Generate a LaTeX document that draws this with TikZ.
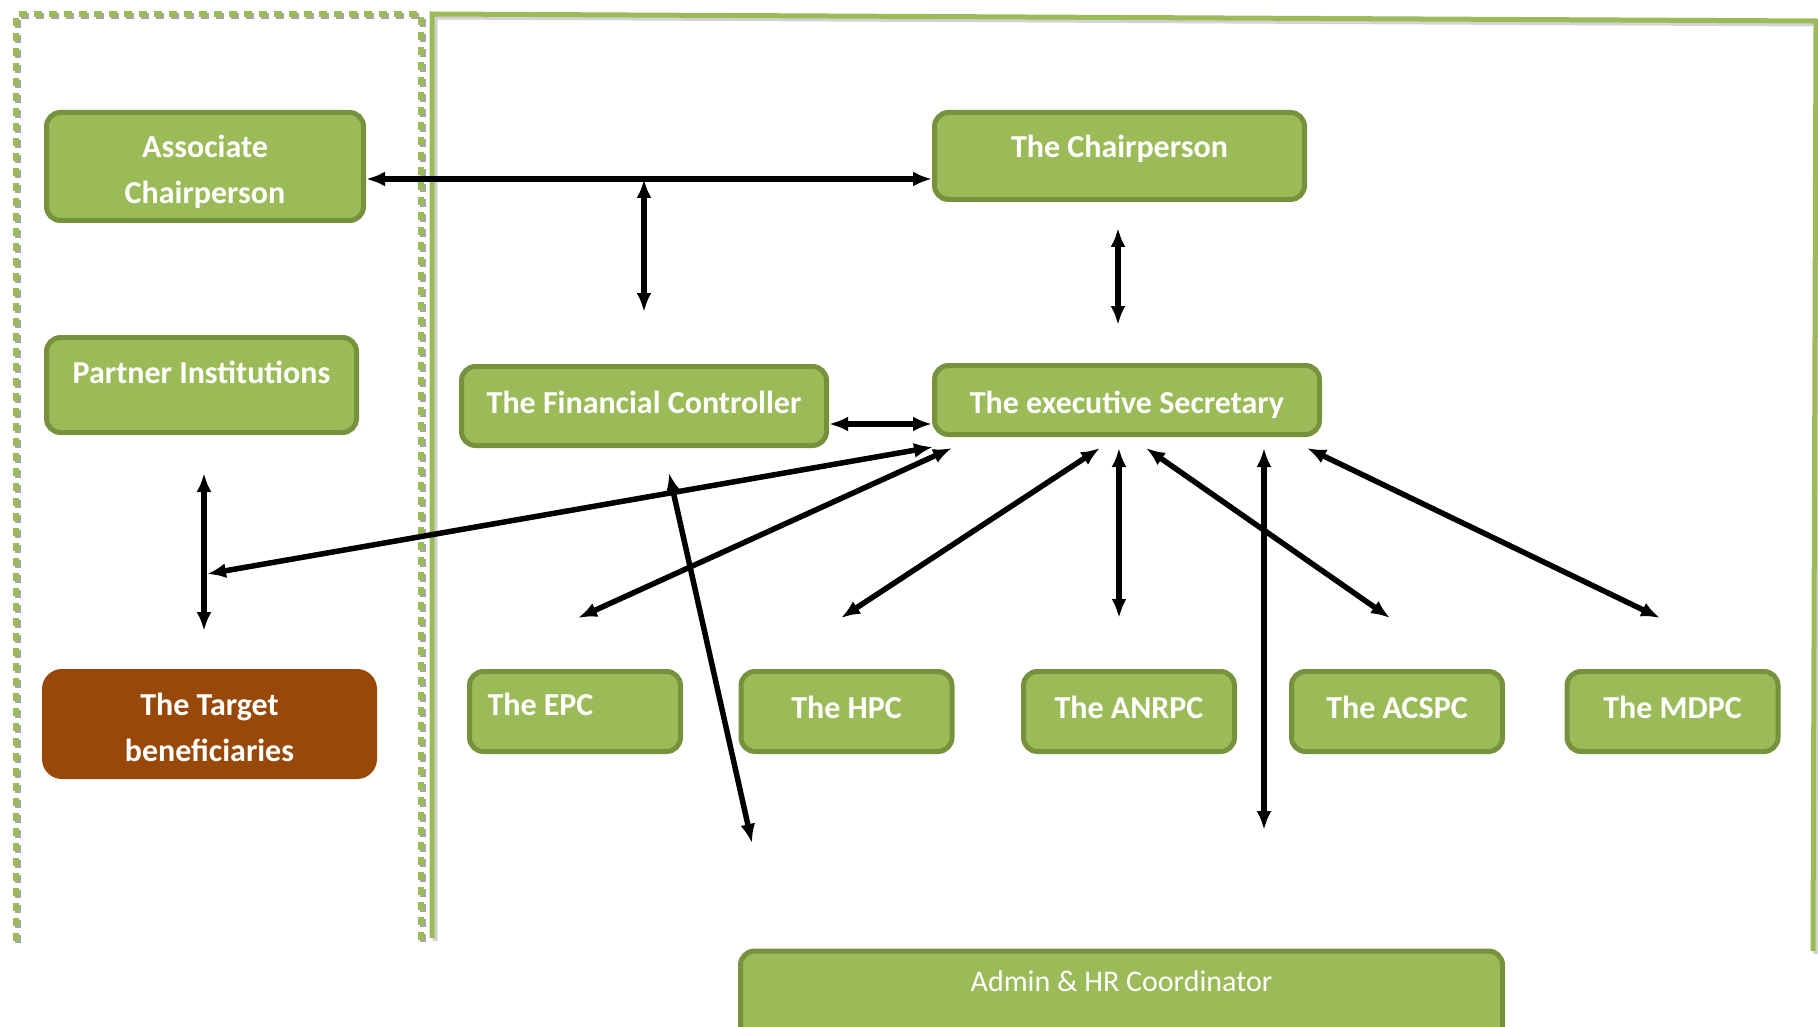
\documentclass[tikz,border=0pt]{standalone}
\usepackage{fontspec}
\setmainfont{Carlito}
\usetikzlibrary{arrows.meta}
\definecolor{boxgreen}{RGB}{155,187,89}
\definecolor{boxline}{RGB}{118,146,60}
\definecolor{targetbrown}{RGB}{152,72,8}
\definecolor{shadowgray}{RGB}{165,165,165}
\tikzset{
box/.style=
    {rectangle,
    rounded corners=14pt,
    fill=boxgreen,
    draw=boxline,
    line width=5pt,
    text=white,
    align=center,
    inner sep=0pt,
    text height=22pt,
    text depth=7pt,
    font=\bfseries\fontsize{32}{46}\selectfont
    },
rowbox/.style=
    {box,
    minimum width=211pt,
    minimum height=80pt,
    text depth=8pt
    },
targetbox/.style=
    {box,
    draw=none,
    fill=targetbrown,
    rounded corners=20pt
    },
link/.style=
    {<->,
    >={Latex[length=19pt,width=15pt]},
    line width=5.5pt,
    black
    }}

\begin{document}
\begin{tikzpicture}[x=1pt,y=-1pt]
\useasboundingbox (0,0) rectangle (1818,1027);

\draw[shadowgray,line width=6pt,dash pattern=on 8pt off 7pt] (18,943) -- (18,16) -- (423,16) -- (423,943);
\draw[boxgreen,line width=6pt,dash pattern=on 8pt off 7pt] (16,941) -- (16,14) -- (421,14) -- (421,941);
\draw[shadowgray!50,line width=5pt] (435,941) -- (435,17) -- (1819,24) -- (1816,954);
\draw[boxgreen,line width=5pt] (432,938) -- (432,14) -- (1816,21) -- (1813,951);

\node[box,minimum width=317pt,minimum height=108pt,text height=82pt,text depth=7pt] (assoc) at (205,166.5) {Associate\\Chairperson};
\node[box,minimum width=370pt,minimum height=87pt,text depth=19pt] (chair) at (1119.5,156) {The Chairperson};
\node[box,minimum width=310pt,minimum height=95pt,text depth=26pt] (partner) at (201.5,385) {Partner Institutions};
\node[box,minimum width=365pt,minimum height=79pt,text depth=8pt] (fc) at (644,406) {The Financial Controller};
\node[box,minimum width=385pt,minimum height=69pt,text height=33pt] (es) at (1127,400) {The executive Secretary};
\node[targetbox,minimum width=335pt,minimum height=110pt,text height=74pt,text depth=0pt] (target) at (209.5,724) {The Target\\beneficiaries};
\node[rowbox,text width=175pt,align=flush left,inner xsep=18pt,text depth=14pt] (epc) at (575,711.5) {The EPC};
\node[rowbox] (hpc) at (846.5,711.5) {The HPC};
\node[rowbox] (anrpc) at (1129,711.5) {The ANRPC};
\node[rowbox] (acspc) at (1397,711.5) {The ACSPC};
\node[rowbox] (mdpc) at (1672.5,711.5) {The MDPC};
\node[box,anchor=north,minimum width=762pt,text height=30pt,text depth=62pt,inner ysep=10pt,
  font=\fontsize{30}{36}\selectfont] (admin) at (1121.5,948.5) {Admin \& HR Coordinator};

\coordinate (hbar) at (644,179);
\coordinate (fctop) at (644,312);
\coordinate (chbot) at (1118,228);
\coordinate (estop) at (1118,325);
\coordinate (pdown) at (204,473);
\coordinate (tup) at (204,631);
\coordinate (tleft) at (207,574);
\coordinate (es1) at (933,447);
\coordinate (epcup) at (578,618);
\coordinate (es2) at (952,448);
\coordinate (fcbelow) at (669,473);
\coordinate (admup) at (752,843);
\coordinate (hpcup) at (841,618);
\coordinate (es3) at (1100,448);
\coordinate (anrup) at (1119,618);
\coordinate (es4) at (1119,448);
\coordinate (acsup) at (1390,618);
\coordinate (es5) at (1146,448);
\coordinate (admup2) at (1264,830);
\coordinate (es6) at (1264,448);
\coordinate (mdpup) at (1660,618);
\coordinate (es7) at (1307,448);

\draw[link] (assoc.east |- hbar) -- (chair.west |- hbar);
\draw[link] (hbar) -- (fctop);
\draw[link] (chbot) -- (estop);
\draw[link] ([yshift=-18pt]fc.east) -- ([yshift=-24pt]es.west);
\draw[link] (pdown) -- (tup);
\draw[link] (tleft) -- (es1);
\draw[link] (epcup) -- (es2);
\draw[link] (fcbelow) -- (admup);
\draw[link] (hpcup) -- (es3);
\draw[link] (anrup) -- (es4);
\draw[link] (acsup) -- (es5);
\draw[link] (admup2) -- (es6);
\draw[link] (mdpup) -- (es7);

\end{tikzpicture}
\end{document}
